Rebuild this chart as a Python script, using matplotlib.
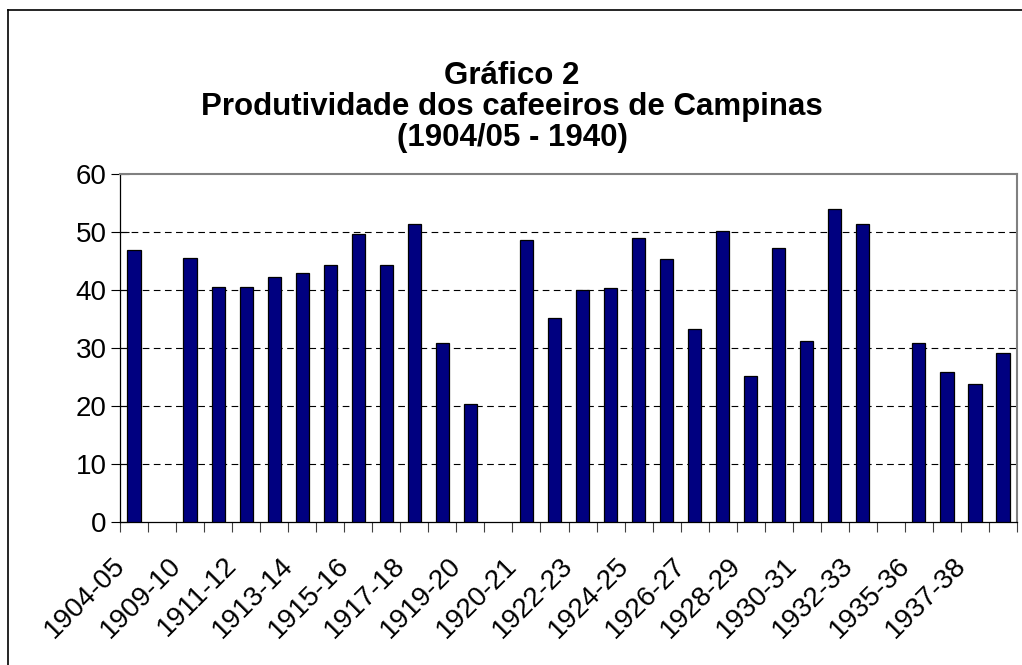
import numpy as np
import matplotlib.pyplot as plt
from matplotlib.lines import Line2D
from matplotlib.transforms import ScaledTranslation

plt.rcParams['font.family'] = ['Liberation Sans', 'DejaVu Sans']

# Safras (rótulo visível em categorias pares)
safras = ['1904-05', '1908-09', '1909-10', '1910-11', '1911-12', '1912-13',
          '1913-14', '1914-15', '1915-16', '1916-17', '1917-18', '1918-19',
          '1919-20', '1920', '1920-21', '1921-22', '1922-23', '1923-24',
          '1924-25', '1925-26', '1926-27', '1927-28', '1928-29', '1929-30',
          '1930-31', '1931-32', '1932-33', '1934-35', '1935-36', '1936-37',
          '1937-38', '1940']

# Produtividade (NaN = sem dado)
produtividade = [46.9, np.nan, 45.6, 40.6, 40.6, 42.3, 42.9, 44.3, 49.7, 44.3,
                 51.3, 30.8, 20.4, np.nan, 48.6, 35.2, 40.0, 40.3, 49.0, 45.3,
                 33.2, 50.1, 25.1, 47.2, 31.2, 54.0, 51.3, np.nan, 30.8, 25.9,
                 23.8, 29.2]

W, H = 1022, 665
fig = plt.figure(figsize=(W / 100, H / 100), dpi=100)
ax = fig.add_axes([120 / W, 1 - 522 / H, (1017 - 120) / W, (522 - 174) / H])

x = np.arange(len(safras))
ax.bar(x, produtividade, width=0.47, color='#000080', edgecolor='black',
       linewidth=0.9, zorder=3)

ax.set_xlim(-0.5, len(safras) - 0.5)
ax.set_ylim(0, 60)
ax.set_yticks(range(0, 61, 10))
ax.tick_params(axis='y', labelsize=20, direction='inout', length=13, width=0.8, pad=3)

# linhas de grade tracejadas
for v in range(10, 60, 10):
    ax.axhline(v, color='black', linewidth=0.8, dashes=(6, 4), zorder=1)

# marcas do eixo x entre as categorias, rótulos em categorias alternadas
ax.set_xticks(np.arange(-0.5, len(safras), 1), minor=True)
ax.set_xticks(x[::2])
ax.set_xticklabels(safras[::2], rotation=45, ha='right', fontsize=20)
ax.tick_params(axis='x', which='minor', length=7.5, width=0.8, color='#404040')
ax.tick_params(axis='x', which='major', length=0, pad=22)
off = ScaledTranslation(-4 / 100, 0, fig.dpi_scale_trans)
for lab in ax.get_xticklabels():
    lab.set_transform(lab.get_transform() + off)

for s in ['top', 'right']:
    ax.spines[s].set_color('#808080')
    ax.spines[s].set_linewidth(1.5)
ax.spines['left'].set_linewidth(0.9)
ax.spines['bottom'].set_linewidth(0.9)

# título
fig.text(512 / W, 1 - 76 / H, 'Gráfico 2', ha='center', va='center',
         fontsize=22.5, fontweight='bold')
fig.text(512 / W, 1 - 107 / H, 'Produtividade dos cafeeiros de Campinas',
         ha='center', va='center', fontsize=22.5, fontweight='bold')
fig.text(512 / W, 1 - 138 / H, '(1904/05 - 1940)', ha='center', va='center',
         fontsize=22.5, fontweight='bold')

# moldura externa (cortada à direita e embaixo)
fig.add_artist(Line2D([8 / W, 8 / W], [0, 1 - 10 / H], color='black', linewidth=1.2))
fig.add_artist(Line2D([8 / W, 1], [1 - 10 / H, 1 - 10 / H], color='black', linewidth=1.2))

fig.savefig('out.png', dpi=100)
